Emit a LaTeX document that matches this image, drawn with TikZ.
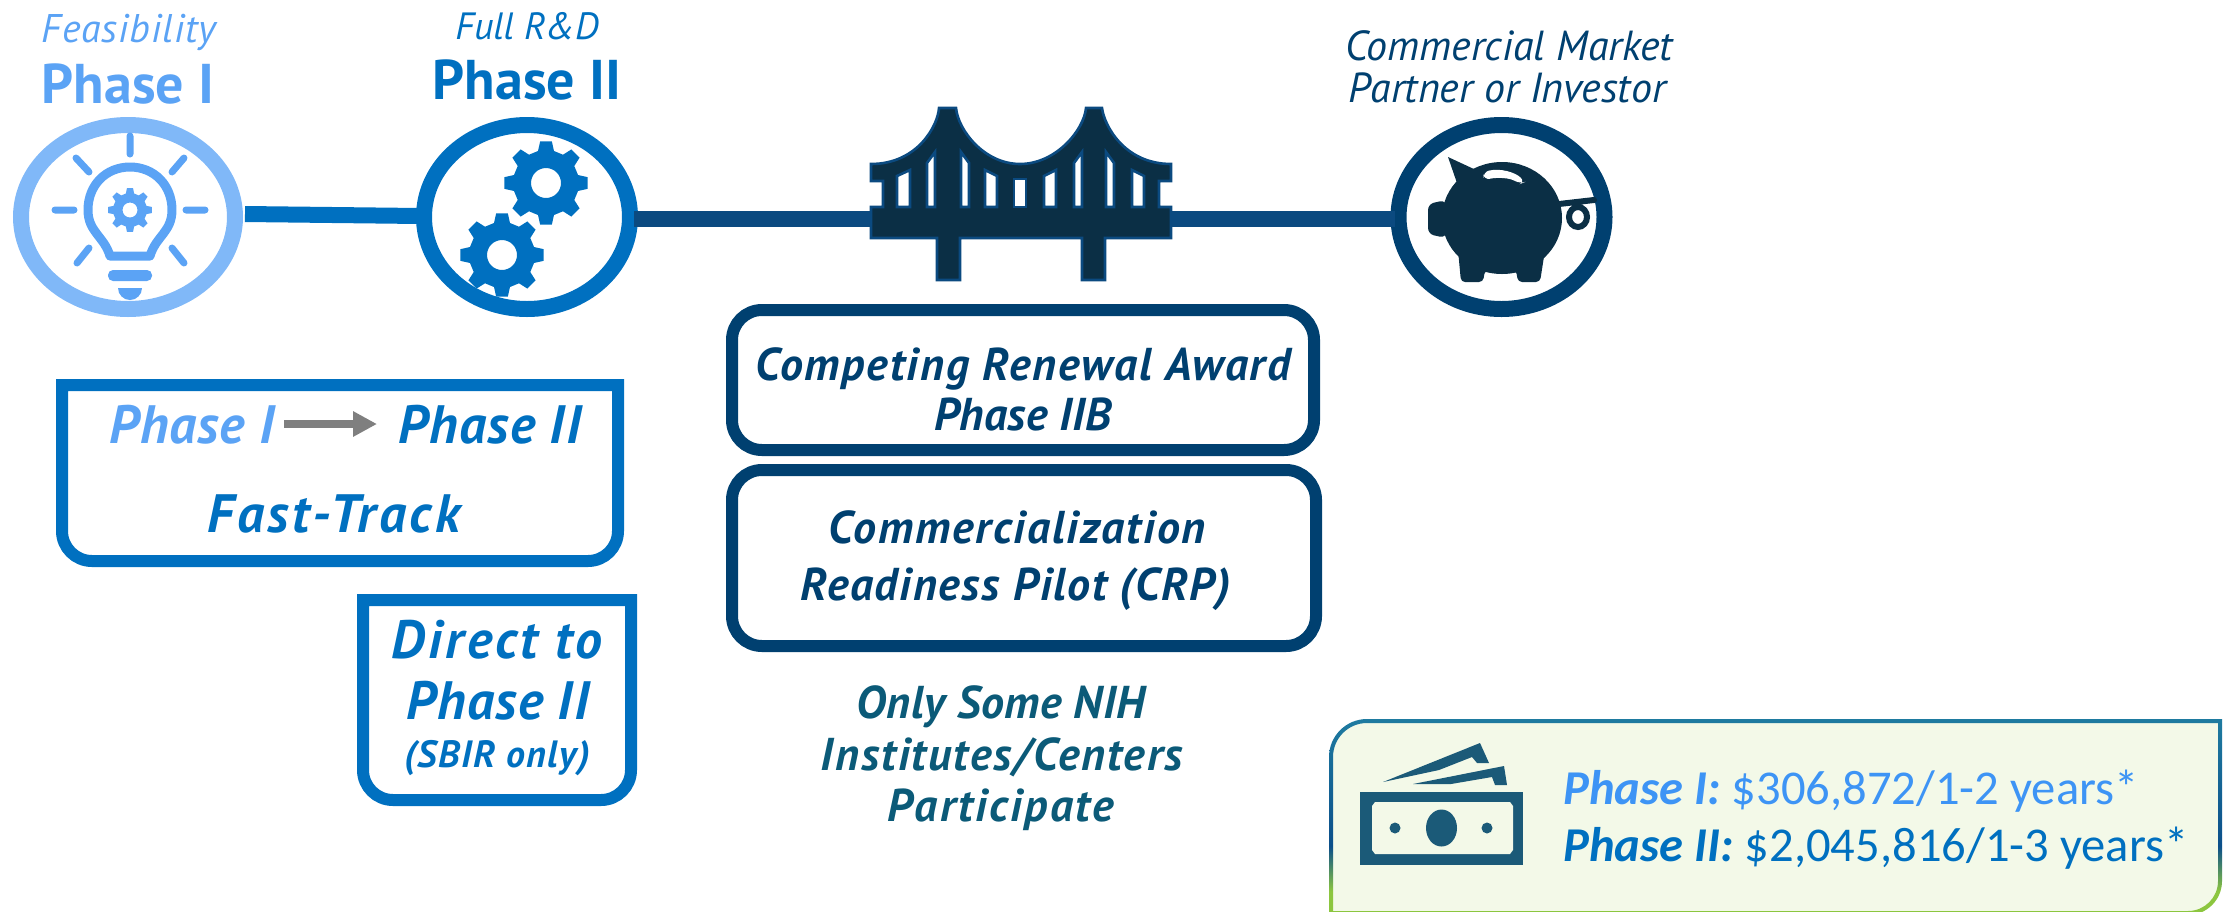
\documentclass[tikz,border=0pt]{standalone}
\usepackage{fontspec}
\setmainfont{PT Sans}
\newfontfamily\calfont{Carlito}
\usetikzlibrary{shapes.geometric,arrows.meta,calc}
\definecolor{lightblue}{HTML}{5BA3F5}
\definecolor{lightring}{HTML}{80B8F8}
\definecolor{midblue}{HTML}{0070C0}
\definecolor{navy}{HTML}{004070}
\definecolor{linknavy}{HTML}{0B4A80}
\definecolor{darkfill}{HTML}{0B2F45}
\definecolor{tealtext}{HTML}{0B5A78}
\definecolor{billcol}{HTML}{1B5A78}
\definecolor{panelfill}{HTML}{F3F9E8}
\definecolor{arrowgray}{HTML}{7F7F7F}
\definecolor{edgegreen}{HTML}{8CC63F}
\definecolor{edgeblue}{HTML}{0B4F8A}
\definecolor{edgeteal}{HTML}{1E7BA0}
\definecolor{paneltext}{HTML}{3D94F5}
\pgfdeclareverticalshading{paneledge}{100bp}{color(0bp)=(edgegreen); color(31bp)=(edgegreen); color(42.5bp)=(edgeblue); color(75bp)=(edgeteal); color(100bp)=(edgeteal)}
\newcommand{\fs}[1]{\fontsize{#1}{#1}\selectfont}
\newcommand{\bi}[2]{\bfseries\itshape\fs{#1}\addfontfeature{LetterSpace=#2}}
\newcommand{\gearpath}[2]{%
  (-14:#2) \foreach \a in {0,45,...,315} { -- (\a-14:#2) -- (\a-8:#1) -- (\a+8:#1) -- (\a+14:#2) -- (\a+31:#2)} -- cycle}
\tikzset{
  ring/.style={ellipse,draw=#1,line width=8pt,minimum width=103pt,minimum height=92pt,inner sep=0pt,outer sep=4pt},
  txt/.style={anchor=base,inner sep=0pt,outer sep=0pt,align=center},
  frame/.style={draw=#1,line width=6pt,line join=miter},
  rbox/.style={rectangle,draw=navy,line width=6pt,rounded corners=15pt,inner sep=0pt},
  ray/.style={draw=lightblue,line width=3.5pt,line cap=round},
}
\begin{document}
\begin{tikzpicture}[x=0.5pt,y=-0.5pt]
\useasboundingbox (0,0) rectangle (2231,911);
% nodes: circles
\node[ring=lightring,minimum width=107pt] (c1) at (128,217) {};
\node[ring=midblue] (c2) at (527,217) {};
\node[ring=navy] (c3) at (1501.5,217) {};
% connectors
\draw[midblue,line width=8pt] ([shift={(2,-3)}]c1.east) -- ([shift={(4,-1)}]c2.west);
\draw[linknavy,line width=8pt] ([shift={(-4,2)}]c2.east) -- ([shift={(4,2)}]c3.west);
% bulb
\begin{scope}
\path[ray] (130,136) -- (130,154) (76,158) -- (89,172) (184,158) -- (172,172) (55,210) -- (74,210) (186,210) -- (205,210) (89,248) -- (77,263) (172,248) -- (184,263);
\draw[lightblue,line width=4.5pt,line join=round] (110,256) .. controls (104,236) and (88,232) .. (88,210) .. controls (88,185) and (106,167) .. (130,167) .. controls (154,167) and (172,185) .. (172,210) .. controls (172,232) and (156,236) .. (150,256) -- cycle;
\fill[lightblue,rounded corners=2.5pt] (108,270) rectangle (152,281);
\fill[lightblue] (118,288) -- (142,288) arc[start angle=0,end angle=180,radius=12] -- cycle;
\begin{scope}[shift={(130,210)}]
\fill[lightblue,even odd rule] \gearpath{22}{17} (0,0) circle (7.5);
\end{scope}
\end{scope}
% gears
\begin{scope}[shift={(546,183)}]
\fill[midblue,even odd rule] \gearpath{42}{33} (0,0) circle (15);
\end{scope}
\begin{scope}[shift={(502,255)}]
\fill[midblue,even odd rule] \gearpath{42}{33} (0,0) circle (15);
\end{scope}
% bridge
\draw[fill=darkfill,draw=linknavy,line width=1.3pt,line join=miter]
 (871,164) .. controls (918,164) and (938,125) .. (939,108) -- (956,108)
 .. controls (958,130) and (984,164) .. (1020,164) .. controls (1056,164) and (1084,130) .. (1086,108) -- (1102,108)
 .. controls (1104,125) and (1124,164) .. (1171,164) -- (1171,181) -- (1159,181) -- (1159,207) -- (1171,207) -- (1171,238)
 -- (1105,238) -- (1105,280) -- (1082,280) -- (1082,238) -- (960,238) -- (960,280) -- (937,280) -- (937,238)
 -- (871,238) -- (871,207) -- (883,207) -- (883,181) -- (871,181) -- cycle;
\foreach \xa/\xb/\ya/\yb in {897/910/176/170,927/935/163/152,961/969/152/163,985/997/170/176,1014/1026/179/179,1044/1056/176/170,1074/1082/163/152,1106/1114/152/163,1132/1144/170/176}
 \draw[fill=white,draw=linknavy,line width=1.3pt,line join=miter] (\xa,207) -- (\xa,\ya) -- (\xb,\yb) -- (\xb,207) -- cycle;
% pig
\fill[darkfill] (1448,157) -- (1476,170) -- (1458,186) -- cycle;
\fill[darkfill] (1502,218) ellipse (60 and 56);
\fill[darkfill,rounded corners=3pt] (1428,204) -- (1446,200) -- (1446,238) -- (1428,234) -- cycle;
\fill[darkfill,rounded corners=2pt] (1458,250) -- (1461,282) -- (1483,282) -- (1485,270) -- (1516,270) -- (1518,282) -- (1540,282) -- (1545,250) -- cycle;
\fill[white,rounded corners=3pt] (1483,172) .. controls (1500,168) and (1515,172) .. (1525,182) -- (1520,184) .. controls (1510,178) and (1498,177) .. (1484,180) -- cycle;
\draw[darkfill,line width=3pt,line cap=round] (1559,204) -- (1594,200) (1578,217) ellipse (9 and 10);
% Fast-Track box
\draw[frame=midblue] (62,385) -- (618,385) [rounded corners=15pt] -- (618,561) -- (62,561) [sharp corners] -- cycle;
\draw[frame=midblue] (363,600) -- (631,600) [rounded corners=15pt] -- (631,800) -- (363,800) [sharp corners] -- cycle;
% middle boxes
\node[rbox,minimum width=291pt,minimum height=70pt] (b1) at (1023,380) {};
\node[rbox,minimum width=292pt,minimum height=88pt] (b2) at (1024,558) {};
% texts
\node[txt,text=lightblue,font=\itshape\fs{20}\addfontfeature{LetterSpace=2}] (t1) at (129,42) {Feasibility};
\node[txt,text=lightblue,font=\bfseries\fs{28}] (t2) at (128,103) {Phase I};
\node[txt,text=midblue,font=\itshape\fs{19}] (t3) at (527,39) {Full R\&D};
\node[txt,text=midblue,font=\bfseries\fs{28}] (t4) at (527,99) {Phase II};
\node[txt,text=navy,font=\itshape\fs{21}] (t5) at (1509,60) {Commercial Market};
\node[txt,text=navy,font=\itshape\fs{21}] (t6) at (1507,102) {Partner or Investor};
\node[txt,text=lightblue,font=\bi{27}{1.5}] (f1) at (192,443) {Phase I};
\node[txt,text=midblue,font=\bi{27}{2}] (f2) at (490,443) {Phase II};
\coordinate (arrA) at (284,424); \coordinate (arrB) at (377,424);
\draw[arrowgray,line width=4pt,-{Triangle[length=12pt,width=12pt]}] (arrA) -- (arrB);
\node[txt,text=midblue,font=\bi{27}{6}] (f3) at (334,532) {Fast-Track};
\node[txt,text=midblue,font=\bi{27}{6}] (d1) at (497,658) {Direct to};
\node[txt,text=midblue,font=\bi{27}{2}] (d2) at (498,719) {Phase II};
\node[txt,text=midblue,font=\bi{19}{3.7}] (d3) at (497,767) {(SBIR only)};
\node[txt,text=navy,font=\bi{23}{3.8}] (m1) at (1023,380) {Competing Renewal Award};
\node[txt,text=navy,font=\bi{23}{0.5}] (m2) at (1023,430) {Phase IIB};
\node[txt,text=navy,font=\bi{23}{4}] (m3) at (1017,543) {Commercialization};
\node[txt,text=navy,font=\bi{23}{3.5}] (m4) at (1016,600) {Readiness Pilot (CRP)};
\node[txt,text=tealtext,font=\bi{23}{1}] (o1) at (1001,718) {Only Some NIH};
\node[txt,text=tealtext,font=\bi{23}{4}] (o2) at (1002,770) {Institutes/Centers};
\node[txt,text=tealtext,font=\bi{23}{5}] (o3) at (1001,821) {Participate};
% panel
\begin{scope}
\clip (0,0) rectangle (2231,911);
\fill[panelfill] (1331,913) [rounded corners=18pt] -- (1331,721) [sharp corners] -- (2220,721) [rounded corners=16pt] -- (2220,913) [sharp corners] -- cycle;
\shade[shading=paneledge,even odd rule] (1329,915) [rounded corners=19pt] -- (1329,719) [sharp corners] -- (2222,719) [rounded corners=17pt] -- (2222,915) [sharp corners] -- cycle
 (1333,911) [rounded corners=17pt] -- (1333,723) [sharp corners] -- (2218,723) [rounded corners=15pt] -- (2218,911) [sharp corners] -- cycle;
\end{scope}
% money
\fill[billcol] (1383,782) -- (1480,743) -- (1489,763) -- (1477,763) -- (1472,757) -- (1439,770) -- cycle;
\fill[billcol] (1413,784) -- (1504,766) -- (1507,785) -- (1495,785) -- (1492,777) -- (1451,784) -- cycle;
\fill[billcol] (1360,792) rectangle (1523,865);
\fill[panelfill] (1375,802) -- (1510,802) -- (1513,806) -- (1513,850) -- (1510,854) -- (1375,854) -- (1372,850) -- (1372,806) -- cycle;
\fill[billcol] (1441.5,828) ellipse (15.5 and 18.5) (1395,828) ellipse (5.5 and 5.5) (1487,828) ellipse (5.5 and 5.5);
\node[anchor=base west,inner sep=0pt,font=\calfont\fs{24.3},text=paneltext] (p1) at (1563,804) {\textbf{\textit{Phase I:}} \$306,872/1-2 years*};
\node[anchor=base west,inner sep=0pt,font=\calfont\fs{24.3},text=midblue] (p2) at (1563,861) {\textbf{\textit{Phase II:}} \$2,045,816/1-3 years*};
\end{tikzpicture}
\end{document}
